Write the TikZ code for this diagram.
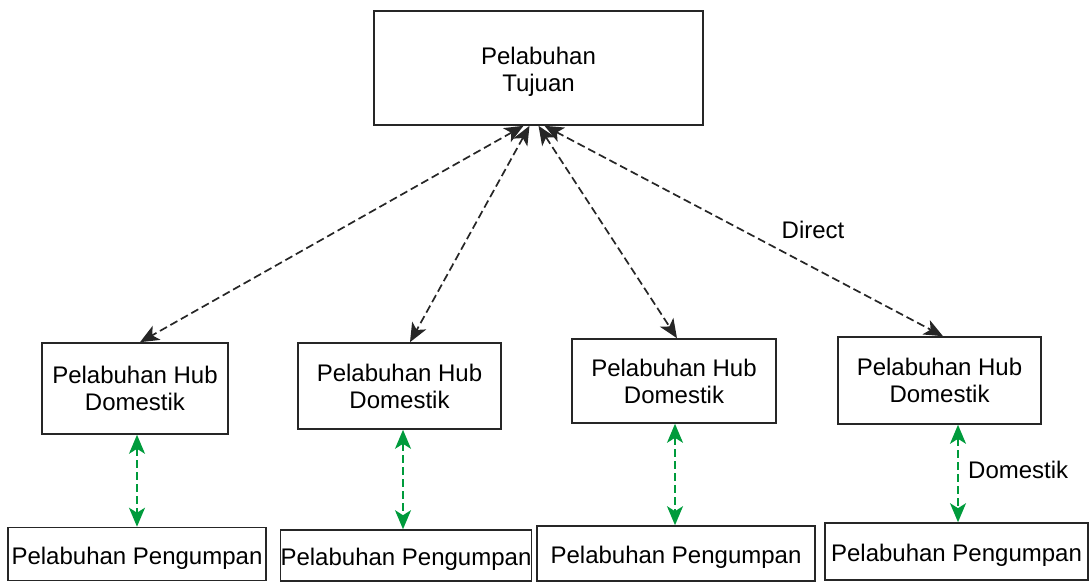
\documentclass[tikz,border=0pt]{standalone}
\usepackage{fontspec}
\setmainfont{Liberation Sans}
\usetikzlibrary{arrows.meta}
\definecolor{feedgreen}{RGB}{0,155,60}
\tikzset{head/.tip={Stealth[length=19pt,width=16pt,inset=5pt]}}
% lower a line of text without changing its reported size
\newcommand\lowertext[1]{\raisebox{-4pt}[\height][\depth]{#1}}
\begin{document}
\begin{tikzpicture}[x=1pt,y=-1pt,
  box/.style={draw=black!85,line width=1.6pt,fill=white,inner sep=0pt,align=center,
    font=\fontsize{24pt}{27pt}\selectfont},
  directlink/.style={draw=black!85,line width=1.7pt,dash pattern=on 8pt off 4pt,{head}-{head}},
  feedlink/.style={draw=feedgreen,line width=1.7pt,dash pattern=on 8pt off 4pt,{head}-{head}},
  lbl/.style={font=\fontsize{24pt}{27pt}\selectfont,inner sep=0pt}]
\useasboundingbox (0,0) rectangle (1089,581);

% destination port
\node[box,minimum width=329pt,minimum height=114pt] (dest) at (538.5,68)
  {\lowertext{Pelabuhan}\\\lowertext{Tujuan}};

% domestic hub ports
\node[box,minimum width=186pt,minimum height=91pt] (hubA) at (135,388.5) {Pelabuhan Hub\\Domestik};
\node[box,minimum width=203pt,minimum height=86pt] (hubB) at (399.5,386) {Pelabuhan Hub\\Domestik};
\node[box,minimum width=204pt,minimum height=84pt] (hubC) at (674,381) {Pelabuhan Hub\\Domestik};
\node[box,minimum width=203pt,minimum height=87pt] (hubD) at (939.5,380.5) {Pelabuhan Hub\\Domestik};

% feeder ports
\node[box,minimum width=258pt,minimum height=53pt] (feedA) at (137,554) {\lowertext{Pelabuhan Pengumpan}};
\node[box,minimum width=246pt,minimum height=51pt] (feedB) at (406,555.5) {\lowertext{Pelabuhan Pengumpan}};
\node[box,minimum width=278pt,minimum height=55pt] (feedC) at (676,553.5) {\lowertext{Pelabuhan Pengumpan}};
\node[box,minimum width=263pt,minimum height=57pt] (feedD) at (956.5,551.5) {\lowertext{Pelabuhan Pengumpan}};

% direct links to the destination port
\draw[directlink] ([xshift=-15pt]dest.south) -- ([xshift=5pt]hubA.north);
\draw[directlink] ([xshift=-9pt]dest.south) -- ([xshift=10.5pt]hubB.north);
\draw[directlink] ([xshift=0pt]dest.south) -- ([xshift=3pt]hubC.north);
\draw[directlink] ([xshift=6pt]dest.south) -- ([xshift=3.5pt]hubD.north);
\node[lbl] (direct) at (813,230) {Direct};

% domestic feeder links
\draw[feedlink] ([xshift=2pt]hubA.south) -- ([xshift=0pt]feedA.north);
\draw[feedlink] ([xshift=3.5pt]hubB.south) -- ([xshift=-3pt]feedB.north);
\draw[feedlink] ([xshift=1pt]hubC.south) -- ([xshift=-1pt]feedC.north);
\draw[feedlink] ([xshift=18.5pt]hubD.south) -- ([xshift=1.5pt]feedD.north);
\node[lbl,anchor=west] (domestik) at (968,470) {Domestik};
\end{tikzpicture}
\end{document}
